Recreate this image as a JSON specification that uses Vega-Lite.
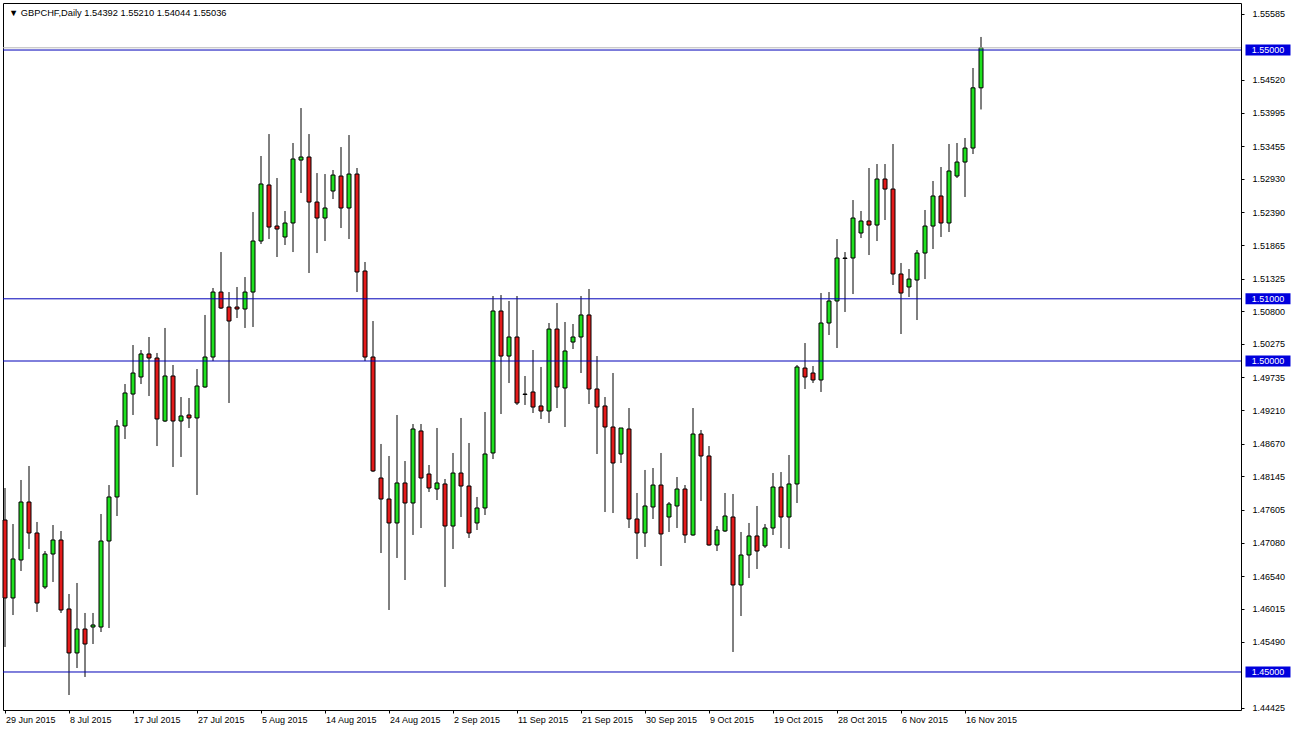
{
  "$schema": "https://vega.github.io/schema/vega-lite/v6.json",
  "width": 1238,
  "height": 707,
  "autosize": "none",
  "padding": {"left": 3, "top": 3, "right": 51, "bottom": 21},
  "background": "white",
  "config": {
    "view": {"stroke": "black", "strokeWidth": 1},
    "axis": {"labelFont": "Liberation Sans", "labelFontSize": 9, "labelColor": "black", "tickColor": "black", "domain": false, "grid": false, "labelOverlap": false},
    "axisY": {"labelOverlap": false, "labelBound": false, "labelFlush": false}
  },
  "title": {
    "text": "▼ GBPCHF,Daily  1.54392 1.55210 1.54044 1.55036",
    "anchor": "start", "frame": "group", "orient": "top", "offset": 0,
    "dx": 6, "dy": 22, "baseline": "alphabetic",
    "font": "Liberation Sans", "fontSize": 9.3, "fontWeight": "normal", "color": "black"
  },
  "datasets": {
    "bars": [
      {"date":"2015-06-29","open":1.47444,"high":1.47958,"low":1.45402,"close":1.46190},
      {"date":"2015-06-30","open":1.46190,"high":1.47379,"low":1.45916,"close":1.46817},
      {"date":"2015-07-01","open":1.46801,"high":1.48087,"low":1.46624,"close":1.47733},
      {"date":"2015-07-02","open":1.47733,"high":1.48312,"low":1.46978,"close":1.47235},
      {"date":"2015-07-03","open":1.47235,"high":1.47412,"low":1.45965,"close":1.46109},
      {"date":"2015-07-05","open":1.46367,"high":1.46945,"low":1.46334,"close":1.46897},
      {"date":"2015-07-06","open":1.46897,"high":1.47363,"low":1.46447,"close":1.47122},
      {"date":"2015-07-07","open":1.47122,"high":1.47267,"low":1.45949,"close":1.45997},
      {"date":"2015-07-08","open":1.46013,"high":1.46254,"low":1.44630,"close":1.45306},
      {"date":"2015-07-09","open":1.45306,"high":1.46431,"low":1.45064,"close":1.45691},
      {"date":"2015-07-10","open":1.45691,"high":1.45949,"low":1.44920,"close":1.45450},
      {"date":"2015-07-12","open":1.45723,"high":1.45949,"low":1.45450,"close":1.45756},
      {"date":"2015-07-13","open":1.45723,"high":1.47540,"low":1.45643,"close":1.47106},
      {"date":"2015-07-14","open":1.47106,"high":1.48006,"low":1.45707,"close":1.47814},
      {"date":"2015-07-15","open":1.47814,"high":1.49051,"low":1.47508,"close":1.48955},
      {"date":"2015-07-16","open":1.48955,"high":1.49630,"low":1.48746,"close":1.49486},
      {"date":"2015-07-17","open":1.49469,"high":1.50257,"low":1.49132,"close":1.49807},
      {"date":"2015-07-19","open":1.49743,"high":1.50177,"low":1.49630,"close":1.50113},
      {"date":"2015-07-20","open":1.50113,"high":1.50386,"low":1.49437,"close":1.50048},
      {"date":"2015-07-21","open":1.50048,"high":1.50129,"low":1.48633,"close":1.49068},
      {"date":"2015-07-22","open":1.49035,"high":1.50531,"low":1.49019,"close":1.49759},
      {"date":"2015-07-23","open":1.49759,"high":1.49936,"low":1.48296,"close":1.49035},
      {"date":"2015-07-24","open":1.49035,"high":1.49421,"low":1.48457,"close":1.49116},
      {"date":"2015-07-26","open":1.49132,"high":1.49405,"low":1.48923,"close":1.49084},
      {"date":"2015-07-27","open":1.49084,"high":1.49871,"low":1.47846,"close":1.49598},
      {"date":"2015-07-28","open":1.49582,"high":1.50740,"low":1.49570,"close":1.50064},
      {"date":"2015-07-29","open":1.50064,"high":1.51174,"low":1.50000,"close":1.51109},
      {"date":"2015-07-30","open":1.51109,"high":1.51752,"low":1.50836,"close":1.50852},
      {"date":"2015-07-31","open":1.50868,"high":1.51109,"low":1.49325,"close":1.50643},
      {"date":"2015-08-02","open":1.50868,"high":1.51190,"low":1.50691,"close":1.50836},
      {"date":"2015-08-03","open":1.50836,"high":1.51350,"low":1.50531,"close":1.51109},
      {"date":"2015-08-04","open":1.51109,"high":1.52395,"low":1.50547,"close":1.51929},
      {"date":"2015-08-05","open":1.51929,"high":1.53296,"low":1.51881,"close":1.52846},
      {"date":"2015-08-06","open":1.52830,"high":1.53649,"low":1.51961,"close":1.52154},
      {"date":"2015-08-07","open":1.52170,"high":1.52942,"low":1.51672,"close":1.52122},
      {"date":"2015-08-09","open":1.51994,"high":1.52412,"low":1.51865,"close":1.52219},
      {"date":"2015-08-10","open":1.52219,"high":1.53505,"low":1.51752,"close":1.53248},
      {"date":"2015-08-11","open":1.53231,"high":1.54067,"low":1.52701,"close":1.53280},
      {"date":"2015-08-12","open":1.53280,"high":1.53649,"low":1.51415,"close":1.52556},
      {"date":"2015-08-13","open":1.52556,"high":1.53022,"low":1.51736,"close":1.52299},
      {"date":"2015-08-14","open":1.52299,"high":1.53006,"low":1.51929,"close":1.52460},
      {"date":"2015-08-16","open":1.52733,"high":1.53071,"low":1.52604,"close":1.52990},
      {"date":"2015-08-17","open":1.52974,"high":1.53440,"low":1.52138,"close":1.52460},
      {"date":"2015-08-18","open":1.52460,"high":1.53633,"low":1.51961,"close":1.53006},
      {"date":"2015-08-19","open":1.53006,"high":1.53103,"low":1.51109,"close":1.51431},
      {"date":"2015-08-20","open":1.51447,"high":1.51592,"low":1.50000,"close":1.50064},
      {"date":"2015-08-21","open":1.50064,"high":1.50643,"low":1.48215,"close":1.48232},
      {"date":"2015-08-23","open":1.48119,"high":1.48666,"low":1.46913,"close":1.47781},
      {"date":"2015-08-24","open":1.47781,"high":1.48473,"low":1.45997,"close":1.47396},
      {"date":"2015-08-25","open":1.47396,"high":1.49132,"low":1.46833,"close":1.48039},
      {"date":"2015-08-26","open":1.48039,"high":1.48392,"low":1.46479,"close":1.47717},
      {"date":"2015-08-27","open":1.47717,"high":1.48987,"low":1.47203,"close":1.48907},
      {"date":"2015-08-28","open":1.48875,"high":1.48987,"low":1.47315,"close":1.48119},
      {"date":"2015-08-30","open":1.48183,"high":1.48328,"low":1.47894,"close":1.47958},
      {"date":"2015-08-31","open":1.47942,"high":1.48923,"low":1.47765,"close":1.48039},
      {"date":"2015-09-01","open":1.48023,"high":1.48103,"low":1.46367,"close":1.47347},
      {"date":"2015-09-02","open":1.47347,"high":1.48521,"low":1.46978,"close":1.48199},
      {"date":"2015-09-03","open":1.48199,"high":1.49084,"low":1.47492,"close":1.47990},
      {"date":"2015-09-04","open":1.47990,"high":1.48682,"low":1.47154,"close":1.47235},
      {"date":"2015-09-06","open":1.47396,"high":1.47814,"low":1.47283,"close":1.47637},
      {"date":"2015-09-07","open":1.47637,"high":1.49180,"low":1.47524,"close":1.48505},
      {"date":"2015-09-08","open":1.48521,"high":1.51045,"low":1.48424,"close":1.50804},
      {"date":"2015-09-09","open":1.50804,"high":1.51061,"low":1.49148,"close":1.50080},
      {"date":"2015-09-10","open":1.50080,"high":1.50965,"low":1.49646,"close":1.50386},
      {"date":"2015-09-11","open":1.50386,"high":1.51045,"low":1.49293,"close":1.49325},
      {"date":"2015-09-13","open":1.49469,"high":1.49759,"low":1.49293,"close":1.49462},
      {"date":"2015-09-14","open":1.49502,"high":1.50177,"low":1.49164,"close":1.49260},
      {"date":"2015-09-15","open":1.49277,"high":1.49904,"low":1.49068,"close":1.49196},
      {"date":"2015-09-16","open":1.49196,"high":1.50611,"low":1.49003,"close":1.50514},
      {"date":"2015-09-17","open":1.50514,"high":1.50932,"low":1.49244,"close":1.49582},
      {"date":"2015-09-18","open":1.49566,"high":1.50627,"low":1.48939,"close":1.50161},
      {"date":"2015-09-20","open":1.50305,"high":1.50595,"low":1.50193,"close":1.50386},
      {"date":"2015-09-21","open":1.50386,"high":1.51045,"low":1.49807,"close":1.50740},
      {"date":"2015-09-22","open":1.50740,"high":1.51158,"low":1.49309,"close":1.49550},
      {"date":"2015-09-23","open":1.49550,"high":1.50080,"low":1.48505,"close":1.49260},
      {"date":"2015-09-24","open":1.49277,"high":1.49421,"low":1.47572,"close":1.48939},
      {"date":"2015-09-25","open":1.48939,"high":1.49807,"low":1.47556,"close":1.48360},
      {"date":"2015-09-27","open":1.48505,"high":1.48923,"low":1.48360,"close":1.48923},
      {"date":"2015-09-28","open":1.48907,"high":1.49244,"low":1.47315,"close":1.47460},
      {"date":"2015-09-29","open":1.47460,"high":1.47878,"low":1.46817,"close":1.47235},
      {"date":"2015-09-30","open":1.47235,"high":1.48248,"low":1.47010,"close":1.47669},
      {"date":"2015-10-01","open":1.47653,"high":1.48280,"low":1.47460,"close":1.48006},
      {"date":"2015-10-02","open":1.48006,"high":1.48521,"low":1.46704,"close":1.47219},
      {"date":"2015-10-04","open":1.47492,"high":1.47733,"low":1.47251,"close":1.47701},
      {"date":"2015-10-05","open":1.47669,"high":1.48135,"low":1.47315,"close":1.47942},
      {"date":"2015-10-06","open":1.47942,"high":1.48006,"low":1.47074,"close":1.47203},
      {"date":"2015-10-07","open":1.47203,"high":1.49244,"low":1.47190,"close":1.48826},
      {"date":"2015-10-08","open":1.48826,"high":1.48891,"low":1.47749,"close":1.48473},
      {"date":"2015-10-09","open":1.48473,"high":1.48633,"low":1.47030,"close":1.47042},
      {"date":"2015-10-11","open":1.47042,"high":1.47347,"low":1.46945,"close":1.47283},
      {"date":"2015-10-12","open":1.47267,"high":1.47878,"low":1.47251,"close":1.47508},
      {"date":"2015-10-13","open":1.47492,"high":1.47862,"low":1.45322,"close":1.46399},
      {"date":"2015-10-14","open":1.46399,"high":1.47251,"low":1.45900,"close":1.46881},
      {"date":"2015-10-15","open":1.46881,"high":1.47396,"low":1.46511,"close":1.47187},
      {"date":"2015-10-16","open":1.47187,"high":1.47669,"low":1.46656,"close":1.46945},
      {"date":"2015-10-18","open":1.47026,"high":1.47379,"low":1.46994,"close":1.47315},
      {"date":"2015-10-19","open":1.47315,"high":1.48199,"low":1.47203,"close":1.47974},
      {"date":"2015-10-20","open":1.47974,"high":1.48215,"low":1.46994,"close":1.47492},
      {"date":"2015-10-21","open":1.47492,"high":1.48489,"low":1.46978,"close":1.48023},
      {"date":"2015-10-22","open":1.48023,"high":1.49936,"low":1.47717,"close":1.49904},
      {"date":"2015-10-23","open":1.49887,"high":1.50289,"low":1.49550,"close":1.49743},
      {"date":"2015-10-25","open":1.49807,"high":1.49920,"low":1.49646,"close":1.49695},
      {"date":"2015-10-26","open":1.49695,"high":1.51093,"low":1.49502,"close":1.50611},
      {"date":"2015-10-27","open":1.50611,"high":1.51109,"low":1.50418,"close":1.50965},
      {"date":"2015-10-28","open":1.50965,"high":1.51961,"low":1.50209,"close":1.51656},
      {"date":"2015-10-29","open":1.51648,"high":1.51752,"low":1.50788,"close":1.51656},
      {"date":"2015-10-30","open":1.51656,"high":1.52588,"low":1.51077,"close":1.52299},
      {"date":"2015-11-01","open":1.52058,"high":1.52412,"low":1.51977,"close":1.52251},
      {"date":"2015-11-02","open":1.52251,"high":1.53103,"low":1.51704,"close":1.52186},
      {"date":"2015-11-03","open":1.52186,"high":1.53167,"low":1.51929,"close":1.52926},
      {"date":"2015-11-04","open":1.52926,"high":1.53167,"low":1.52267,"close":1.52765},
      {"date":"2015-11-05","open":1.52765,"high":1.53489,"low":1.51222,"close":1.51399},
      {"date":"2015-11-06","open":1.51399,"high":1.51576,"low":1.50434,"close":1.51093},
      {"date":"2015-11-08","open":1.51190,"high":1.51479,"low":1.51029,"close":1.51318},
      {"date":"2015-11-09","open":1.51302,"high":1.51785,"low":1.50659,"close":1.51736},
      {"date":"2015-11-10","open":1.51736,"high":1.52428,"low":1.51318,"close":1.52170},
      {"date":"2015-11-11","open":1.52170,"high":1.52894,"low":1.51801,"close":1.52653},
      {"date":"2015-11-12","open":1.52653,"high":1.53119,"low":1.51994,"close":1.52219},
      {"date":"2015-11-13","open":1.52219,"high":1.53489,"low":1.52074,"close":1.53055},
      {"date":"2015-11-15","open":1.52974,"high":1.53505,"low":1.52942,"close":1.53199},
      {"date":"2015-11-16","open":1.53199,"high":1.53585,"low":1.52637,"close":1.53424},
      {"date":"2015-11-17","open":1.53424,"high":1.54711,"low":1.53328,"close":1.54392},
      {"date":"2015-11-18","open":1.54392,"high":1.55210,"low":1.54044,"close":1.55036}
    ],
    "levels": [
      {"level": 1.55},
      {"level": 1.51},
      {"level": 1.50},
      {"level": 1.45}
    ],
    "bid": [
      {"price": 1.55036}
    ]
  },
  "layer": [
    {
      "data": {"name": "bars"},
      "encoding": {
        "x": {
          "field": "date", "type": "ordinal", "sort": null, "title": null,
          "scale": {"type": "band", "range": [-2, 982], "paddingInner": 0, "paddingOuter": 0},
          "axis": {
            "values": ["2015-06-29","2015-07-08","2015-07-17","2015-07-27","2015-08-05","2015-08-14","2015-08-24","2015-09-02","2015-09-11","2015-09-21","2015-09-30","2015-10-09","2015-10-19","2015-10-28","2015-11-06","2015-11-16"],
            "labelExpr": "utcFormat(toDate(datum.value), '%-d %b %Y')",
            "labelAlign": "left", "labelAngle": 0, "labelOffset": 1,
            "labelBaseline": "top", "tickSize": 3, "labelPadding": 2,
            "labelOverlap": false, "domain": false
          }
        },
        "y": {
          "field": "low", "type": "quantitative", "title": null,
          "scale": {"domain": [1.44389, 1.55756], "nice": false, "zero": false},
          "axis": {
            "orient": "right",
            "values": [1.55585, 1.54520, 1.53995, 1.53455, 1.52930, 1.52390, 1.51865, 1.51325, 1.50800, 1.50275, 1.49735, 1.49210, 1.48670, 1.48145, 1.47605, 1.47080, 1.46540, 1.46015, 1.45490, 1.44425],
            "tickCount": 40,
            "format": ".5f", "tickSize": 3, "labelPadding": 8,
            "labelAlign": "left", "labelBaseline": "middle", "domain": false,
            "labelOverlap": false, "labelBound": false, "labelFlush": false
          }
        }
      },
      "layer": [
        {
          "mark": {"type": "rule", "color": "black", "strokeWidth": 1},
          "encoding": {
            "y2": {"field": "high"}
          }
        },
        {
          "mark": {"type": "bar", "size": 4, "stroke": "black", "strokeWidth": 1},
          "encoding": {
            "y": {"field": "open", "type": "quantitative", "title": null, "scale": {"domain": [1.44389, 1.55756], "nice": false, "zero": false}},
            "y2": {"field": "close"},
            "color": {
              "condition": {"test": "datum.close >= datum.open", "value": "#1fe01f"},
              "value": "#e31b1b"
            }
          }
        }
      ]
    },
    {
      "data": {"name": "bid"},
      "mark": {"type": "rule", "color": "#b8b8b8", "strokeWidth": 1},
      "encoding": {
        "y": {"field": "price", "type": "quantitative", "title": null, "scale": {"domain": [1.44389, 1.55756], "nice": false, "zero": false}}
      }
    },
    {
      "data": {"name": "levels"},
      "mark": {"type": "rule", "color": "#0000b8", "strokeWidth": 1},
      "encoding": {
        "y": {"field": "level", "type": "quantitative", "title": null, "scale": {"domain": [1.44389, 1.55756], "nice": false, "zero": false}}
      }
    },
    {
      "data": {"name": "levels"},
      "encoding": {
        "x": {"datum": 1.0218, "type": "quantitative", "scale": {"domain": [0, 1], "nice": false, "zero": false}, "axis": null},
        "y": {"field": "level", "type": "quantitative", "title": null, "scale": {"domain": [1.44389, 1.55756], "nice": false, "zero": false}}
      },
      "layer": [
        {"mark": {"type": "tick", "orient": "horizontal", "size": 45, "thickness": 11, "color": "#0000dd", "opacity": 1, "filled": true}},
        {
          "mark": {"type": "text", "color": "white", "font": "Liberation Sans", "fontSize": 9, "align": "center", "baseline": "middle"},
          "encoding": {"text": {"field": "level", "type": "quantitative", "format": ".5f"}}
        }
      ]
    }
  ],
  "resolve": {"scale": {"x": "independent"}}
}
